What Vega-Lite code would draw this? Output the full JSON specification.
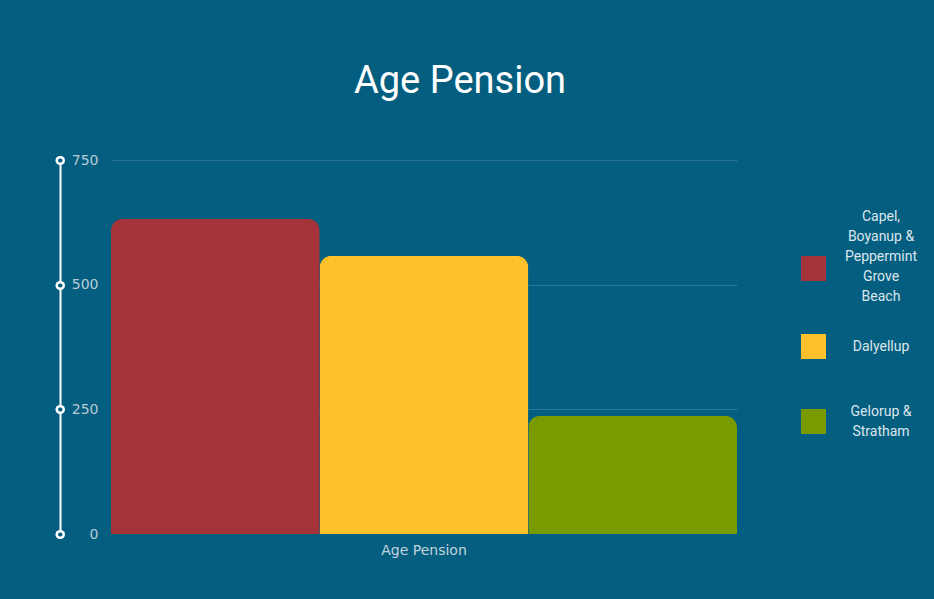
{
  "$schema": "https://vega.github.io/schema/vega-lite/v6.json",
  "autosize": {"type": "none"},
  "width": 626,
  "height": 374,
  "padding": {"left": 111, "top": 160, "right": 197, "bottom": 65},
  "background": "#035E80",
  "title": {"text": "Age Pension", "font": "Roboto", "fontSize": 38, "fontWeight": "normal", "color": "#ffffff", "anchor": "middle", "dx": 36, "offset": 52},
  "config": {
    "view": {"stroke": null},
    "style": {"guide-label": {"lineHeight": 20}}
  },
  "data": {"values": [
    {"group": "Age Pension", "suburb": "Capel, Boyanup & Peppermint Grove Beach", "value": 632},
    {"group": "Age Pension", "suburb": "Dalyellup", "value": 558},
    {"group": "Age Pension", "suburb": "Gelorup & Stratham", "value": 237}
  ]},
  "resolve": {"axis": {"y": "independent"}},
  "layer": [
    {
      "mark": {"type": "bar", "cornerRadiusTopLeft": 12, "cornerRadiusTopRight": 12},
      "encoding": {
        "x": {"field": "group", "type": "nominal", "scale": {"paddingInner": 0, "paddingOuter": 0},
          "axis": {"title": null, "domain": false, "ticks": false, "labelAngle": 0, "labelPadding": 9, "labelFont": "DejaVu Sans", "labelFontSize": 14, "labelColor": "#c3d3de"}},
        "xOffset": {"field": "suburb", "type": "nominal", "scale": {"paddingInner": 0, "paddingOuter": 0}},
        "y": {"field": "value", "type": "quantitative", "scale": {"domain": [0, 750]},
          "axis": {"title": null, "orient": "left", "offset": 51, "values": [0, 250, 500, 750],
            "domain": true, "domainColor": "#ffffff", "domainWidth": 2,
            "ticks": true, "tickColor": "#ffffff", "tickWidth": 9, "tickCap": "round", "tickSize": 0.5,
            "labelPadding": -38.5, "labelFont": "DejaVu Sans", "labelFontSize": 14, "labelColor": "#b9cbd7", "labelAlign": "right",
            "grid": true, "gridColor": {"condition": {"test": "datum.value === 0", "value": "transparent"}, "value": "#2b7696"}, "gridWidth": 1, "zindex": 0}},
        "color": {"field": "suburb", "type": "nominal",
          "scale": {"domain": ["Capel, Boyanup & Peppermint Grove Beach", "Dalyellup", "Gelorup & Stratham"], "range": ["#A4343A", "#FEC12B", "#7A9A01"]},
          "legend": {"title": null, "orient": "right", "offset": -32, "padding": 96,
            "symbolType": "square", "symbolSize": 625, "symbolStrokeWidth": 0, "symbolOpacity": 1,
            "labelFont": "Roboto", "labelFontSize": 14, "labelColor": "#dde6ec", "labelAlign": "center", "labelOffset": 55, "labelLimit": 300, "rowPadding": 30,
            "labelExpr": "datum.label == 'Capel, Boyanup & Peppermint Grove Beach' ? ['Capel,', 'Boyanup &', 'Peppermint', 'Grove', 'Beach'] : datum.label == 'Gelorup & Stratham' ? ['Gelorup &', 'Stratham'] : [datum.label, '']",
            "encode": {"labels": {"update": {"dy": {"signal": "datum.index == 0 ? -52 : datum.index == 2 ? -10 : 0"}}}}}}
      }
    },
    {
      "mark": {"type": "point", "opacity": 0},
      "encoding": {
        "y": {"field": "value", "type": "quantitative", "scale": {"domain": [0, 750]},
          "axis": {"title": null, "orient": "left", "offset": 51, "values": [0, 250, 500, 750],
            "domain": false, "labels": false, "grid": false,
            "ticks": true, "tickColor": "#035E80", "tickWidth": 4, "tickCap": "round", "tickSize": 0.5, "zindex": 1}}
      }
    }
  ]
}
